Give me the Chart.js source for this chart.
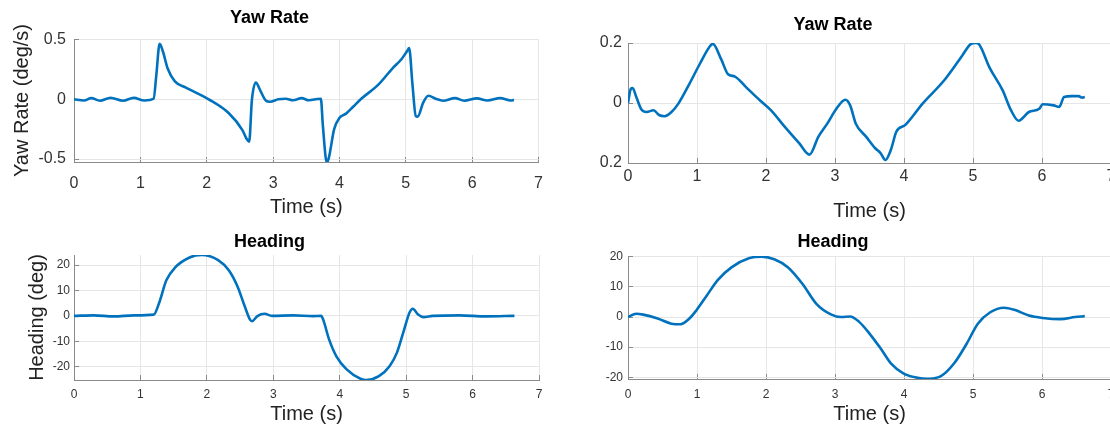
<!DOCTYPE html>
<html>
<head>
<meta charset="utf-8">
<script src="https://cdn.jsdelivr.net/npm/chart.js@4/dist/chart.umd.min.js"></script>
<style>
  html, body { margin: 0; padding: 0; background: #fff; overflow: hidden; width: 1110px; height: 430px; }
  canvas { position: absolute; }
</style>
</head>
<body>
<canvas id="yaw-left" width="560" height="220" style="left:0;top:0"></canvas>
<canvas id="yaw-right" width="575" height="230" style="left:555px;top:0"></canvas>
<canvas id="head-left" width="560" height="210" style="left:0;top:220px"></canvas>
<canvas id="head-right" width="575" height="210" style="left:555px;top:220px"></canvas>
<script>
// ---- data ----
const TIME_TICKS = ['0', '1', '2', '3', '4', '5', '6', '7'];

const YAW_L_TICKS = ['-0.5', '0', '0.5'];
const YAW_R_TICKS = ['0.2', '0', '0.2'];
const HEAD_L_TICKS = ['-20', '-10', '0', '10', '20'];
const HEAD_R_TICKS = ['-20', '-10', '0', '10', '20'];

// yaw rate, left run
const YAW_L_T = [0, 0.15, 0.26, 0.39, 0.55, 0.74, 0.9, 1.06, 1.2, 1.24, 1.29, 1.34, 1.41, 1.52, 1.68,
  2.03, 2.33, 2.54, 2.6, 2.64, 2.68, 2.74, 2.81, 2.89, 2.95, 3.08, 3.19, 3.3, 3.43, 3.54, 3.67, 3.72,
  3.75, 3.81, 3.84, 3.92, 4.0, 4.1, 4.21, 4.32, 4.59, 4.8, 4.94, 5.02, 5.05, 5.1, 5.15, 5.18, 5.26,
  5.34, 5.45, 5.56, 5.74, 5.88, 6.07, 6.23, 6.42, 6.58, 6.63];
const YAW_L_V = [0, -0.01, 0.01, -0.012, 0.012, -0.012, 0.012, -0.01, 0.005, 0.2, 0.465, 0.4, 0.26, 0.15, 0.1,
  0, -0.115, -0.26, -0.33, -0.355, -0.01, 0.14, 0.07, -0.01, -0.02, 0, 0.005, -0.008, 0.01, -0.008, 0.003, 0.005,
  -0.22, -0.53, -0.49, -0.25, -0.155, -0.12, -0.06, 0, 0.125, 0.26, 0.34, 0.405, 0.43, 0.125, -0.14, -0.145, -0.03,
  0.03, 0.005, -0.012, 0.01, -0.012, 0.008, -0.01, 0.01, -0.01, -0.005];

// yaw rate, right run
const YAW_R_T = [0, 0.04, 0.067, 0.12, 0.195, 0.27, 0.37, 0.45, 0.53, 0.63, 0.73, 0.89, 1.04, 1.19, 1.23,
  1.35, 1.45, 1.55, 1.71, 1.91, 2.07, 2.27, 2.48, 2.63, 2.76, 2.89, 3.02, 3.15, 3.22, 3.3, 3.45, 3.58,
  3.66, 3.73, 3.81, 3.89, 4.02, 4.27, 4.58, 4.84, 4.96, 5.04, 5.09, 5.24, 5.43, 5.55, 5.66, 5.81, 5.96,
  6.01, 6.17, 6.25, 6.32, 6.43, 6.53, 6.58, 6.62];
const YAW_R_V = [0, 0.047, 0.05, 0.02, -0.022, -0.03, -0.024, -0.04, -0.044, -0.03, -0.002, 0.064, 0.13, 0.19, 0.197,
  0.146, 0.096, 0.088, 0.053, 0.009, -0.024, -0.079, -0.134, -0.172, -0.112, -0.068, -0.019, 0.011, -0.008, -0.068, -0.112, -0.15,
  -0.167, -0.19, -0.156, -0.095, -0.073, -0.002, 0.075, 0.157, 0.195, 0.2, 0.195, 0.118, 0.042, -0.024, -0.059, -0.03, -0.019,
  -0.004, -0.008, -0.013, 0.02, 0.023, 0.023, 0.018, 0.02];

// heading, left run
const HEAD_L_T = [0, 0.3, 0.6, 0.9, 1.2, 1.28, 1.39, 1.52, 1.74, 1.92, 2.17, 2.33, 2.46, 2.57, 2.65, 2.68,
  2.76, 2.87, 2.98, 3.3, 3.6, 3.72, 3.75, 3.84, 3.95, 4.1, 4.32, 4.4, 4.59, 4.75, 4.86, 4.97, 5.05,
  5.1, 5.18, 5.26, 5.4, 5.8, 6.2, 6.63];
const HEAD_L_V = [0, 0.2, -0.2, 0.2, 0.5, 5, 14, 19, 23, 24, 22, 18, 11.7, 3.8, -1.5, -2.1,
  -0.1, 0.8, 0, 0.2, -0.1, 0, -1.4, -9.3, -16, -21, -24.9, -25.3, -23.8, -19.9, -14.6, -5.4, 1.2,
  2.8, 0.5, -0.5, 0, 0.2, -0.2, 0];

// heading, right run
const HEAD_R_T = [0, 0.12, 0.22, 0.43, 0.63, 0.76, 0.89, 0.99, 1.14, 1.3, 1.5, 1.76, 1.94, 2.12, 2.32,
  2.53, 2.73, 2.94, 3.09, 3.22, 3.35, 3.5, 3.66, 3.81, 3.99, 4.22, 4.32, 4.53, 4.73, 4.91, 5.07, 5.25,
  5.45, 5.6, 5.81, 6.01, 6.27, 6.48, 6.62];
const HEAD_R_V = [0, 1.1, 0.8, -0.5, -2.2, -2.4, -0.5, 2.2, 7.1, 12.3, 16.5, 19.6, 20.1, 19.2, 16.5,
  11, 4.4, 0.9, 0, 0.2, -1.6, -5.5, -10.4, -15.4, -18.7, -20.3, -20.5, -19.7, -15.3, -8.8, -2.2, 1.6,
  3.1, 2.4, 0.5, -0.3, -0.7, 0, 0.3];

// ---- chart setup ----
const FONT = "'Liberation Sans', Arial, sans-serif";
const LINE_BLUE = '#0072BD';
const GRID = '#e6e6e6';
const AXIS = '#8a8a8a';
const TICK_IN = 5; // matlab-style tick marks point inward

function points(ts, vs) {
  return ts.map((t, i) => ({ x: t, y: vs[i] }));
}

function makePlot(id, o) {
  const el = document.getElementById(id);
  return new Chart(el, {
    type: 'line',
    data: {
      datasets: [{
        data: points(o.t, o.v),
        borderColor: LINE_BLUE,
        borderWidth: 2.6,
        pointRadius: 0,
        cubicInterpolationMode: 'monotone',
        fill: false
      }]
    },
    options: {
      responsive: false,
      animation: false,
      devicePixelRatio: 1,
      layout: { padding: { left: 0, right: o.padRight, top: 0, bottom: 0 } },
      plugins: {
        legend: { display: false },
        tooltip: { enabled: false },
        title: {
          display: true,
          text: o.title,
          color: '#000',
          font: { family: FONT, size: 18, weight: 'bold' },
          padding: { top: o.titleTop, bottom: o.titleBottom }
        }
      },
      scales: {
        x: {
          type: 'linear',
          min: 0, max: 7,
          afterFit: s => { s.height = o.xHeight; },
          ticks: {
            stepSize: 1,
            autoSkip: false,
            maxRotation: 0,
            padding: o.xTickPad + TICK_IN,
            color: '#333',
            font: { family: FONT, size: o.tickSize },
            callback: (v, i) => TIME_TICKS[i]
          },
          grid: { color: GRID, drawTicks: true, tickLength: -TICK_IN, tickColor: AXIS },
          border: { display: true, color: AXIS, width: 1 },
          title: {
            display: true,
            text: 'Time (s)',
            color: '#222',
            font: { family: FONT, size: 20 },
            padding: { top: 0, bottom: o.xTitlePad }
          }
        },
        y: {
          min: o.ymin, max: o.ymax,
          afterFit: s => { s.width = o.yWidth; },
          ticks: {
            stepSize: o.step,
            includeBounds: false,
            padding: o.yTickPad + TICK_IN,
            color: '#333',
            font: { family: FONT, size: o.tickSize },
            callback: (v, i) => o.labels[i]
          },
          grid: { color: GRID, drawTicks: true, tickLength: -TICK_IN, tickColor: AXIS },
          border: { display: true, color: AXIS, width: 1 },
          title: {
            display: !!o.yTitle,
            text: o.yTitle || '',
            color: '#222',
            font: { family: FONT, size: 20 },
            padding: { top: o.yTitlePad || 0, bottom: 0 }
          }
        }
      }
    }
  });
}

makePlot('yaw-left', {
  t: YAW_L_T, v: YAW_L_V, labels: YAW_L_TICKS, title: 'Yaw Rate', yTitle: 'Yaw Rate (deg/s)',
  ymin: -0.525, ymax: 0.505, step: 0.5, tickSize: 16,
  padRight: 21, titleTop: 7, titleBottom: 10.4, yWidth: 74, yTickPad: 8, yTitlePad: 10,
  xHeight: 58, xTickPad: 12, xTitlePad: 1
});

makePlot('yaw-right', {
  t: YAW_R_T, v: YAW_R_V, labels: YAW_R_TICKS, title: 'Yaw Rate',
  ymin: -0.2, ymax: 0.2, step: 0.2, tickSize: 16,
  padRight: 19, titleTop: 14, titleBottom: 7.4, yWidth: 73, yTickPad: 6,
  xHeight: 67, xTickPad: 3.5, xTitlePad: 7
});

makePlot('head-left', {
  t: HEAD_L_T, v: HEAD_L_V, labels: HEAD_L_TICKS, title: 'Heading', yTitle: 'Heading (deg)',
  ymin: -25.3, ymax: 24, step: 10, tickSize: 12,
  padRight: 21, titleTop: 11, titleBottom: 2.4, yWidth: 74, yTickPad: 4, yTitlePad: 25,
  xHeight: 50, xTickPad: 7.4, xTitlePad: 4
});

makePlot('head-right', {
  t: HEAD_R_T, v: HEAD_R_V, labels: HEAD_R_TICKS, title: 'Heading',
  ymin: -20.6, ymax: 20.3, step: 10, tickSize: 12,
  padRight: 19, titleTop: 11, titleBottom: 3.4, yWidth: 73, yTickPad: 5,
  xHeight: 51, xTickPad: 8.4, xTitlePad: 4
});
</script>
</body>
</html>
